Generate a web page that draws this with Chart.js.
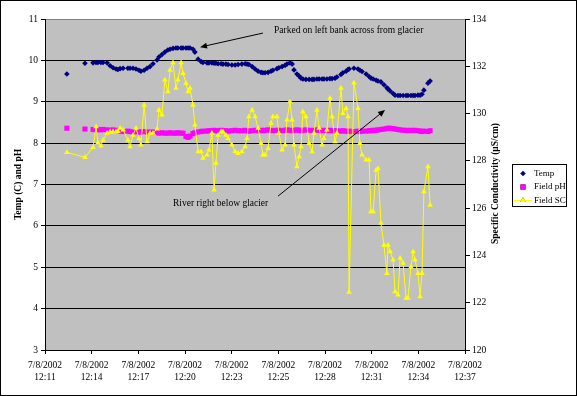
<!DOCTYPE html>
<html>
<head>
<meta charset="utf-8">
<title>Temp, pH and SC</title>
<script src="https://cdn.jsdelivr.net/npm/chart.js"></script>
<style>
  html, body { margin: 0; padding: 0; background: #fff; }
  canvas { display: block; }
</style>
</head>
<body>
<canvas id="chart" width="577" height="396"></canvas>
<script>
// x values are seconds after 7/8/2002 12:11:00
const tickDate = '7/8/2002';
const tickTimes = ['12:11', '12:14', '12:17', '12:20', '12:23', '12:25', '12:28', '12:31', '12:34', '12:37'];
const tickStep = 172.8; // 0.002 day between axis labels

const times = [
  81, 148, 178, 189, 196, 207, 215, 230, 241, 252,
  263, 270, 278, 289, 307, 315, 326, 337, 348, 355,
  367, 378, 389, 400, 415, 422, 433, 444, 455, 463,
  474, 485, 492, 504, 511, 522, 530, 537, 548, 555,
  567, 578, 585, 600, 607, 618, 626, 633, 641, 652,
  659, 670, 678, 692, 704, 715, 729, 741, 748, 755,
  767, 778, 789, 800, 807, 815, 826, 837, 844, 859,
  866, 878, 889, 896, 907, 915, 922, 933, 941, 948,
  955, 966, 978, 989, 996, 1007, 1015, 1026, 1033, 1044,
  1055, 1063, 1074, 1081, 1096, 1103, 1115, 1122, 1126, 1144,
  1159, 1166, 1174, 1189, 1200, 1207, 1215, 1226, 1233, 1244,
  1255, 1266, 1270, 1278, 1289, 1296, 1307, 1315, 1326, 1337,
  1344, 1355, 1363, 1370, 1381, 1389, 1396, 1403, 1418, 1426
];

const temp = [
  9.67, 9.93, 9.94, 9.95, 9.95, 9.95, 9.95, 9.94, 9.87, 9.82,
  9.79, 9.78, 9.80, 9.81, 9.81, 9.81, 9.81, 9.79, 9.76, 9.74,
  9.76, 9.81, 9.85, 9.92, 10.01, 10.08, 10.14, 10.20, 10.25, 10.27,
  10.29, 10.30, 10.30, 10.30, 10.30, 10.30, 10.30, 10.30, 10.27, 10.20,
  10.03, 9.97, 9.95, 9.94, 9.94, 9.94, 9.93, 9.93, 9.92, 9.92,
  9.91, 9.91, 9.90, 9.89, 9.89, 9.90, 9.91, 9.92, 9.91, 9.90,
  9.85, 9.79, 9.74, 9.71, 9.70, 9.70, 9.71, 9.74, 9.76, 9.80,
  9.82, 9.85, 9.88, 9.91, 9.94, 9.91, 9.77, 9.67, 9.62, 9.57,
  9.55, 9.54, 9.54, 9.54, 9.54, 9.55, 9.55, 9.55, 9.55, 9.55,
  9.56, 9.56, 9.57, 9.60, 9.66, 9.70, 9.74, 9.78, 9.79, 9.81,
  9.79, 9.76, 9.73, 9.67, 9.61, 9.57, 9.55, 9.52, 9.50, 9.48,
  9.41, 9.34, 9.31, 9.26, 9.20, 9.16, 9.15, 9.15, 9.15, 9.15,
  9.15, 9.15, 9.15, 9.15, 9.16, 9.16, 9.18, 9.28, 9.45, 9.50
];

const fieldPH = [
  8.36, 8.34, 8.33, 8.32, 8.33, 8.32, 8.33, 8.32, 8.31, 8.32,
  8.30, 8.31, 8.29, 8.28, 8.29, 8.28, 8.27, 8.28, 8.27, 8.27,
  8.28, 8.27, 8.26, 8.27, 8.26, 8.24, 8.25, 8.24, 8.24, 8.25,
  8.24, 8.24, 8.25, 8.24, 8.24, 8.16, 8.14, 8.17, 8.23, 8.25,
  8.27, 8.28, 8.29, 8.29, 8.30, 8.30, 8.31, 8.30, 8.30, 8.31,
  8.30, 8.30, 8.29, 8.30, 8.31, 8.30, 8.30, 8.31, 8.30, 8.29,
  8.30, 8.31, 8.30, 8.31, 8.30, 8.31, 8.32, 8.31, 8.30, 8.31,
  8.31, 8.30, 8.31, 8.32, 8.31, 8.30, 8.31, 8.32, 8.31, 8.30,
  8.31, 8.32, 8.31, 8.30, 8.31, 8.32, 8.31, 8.30, 8.31, 8.30,
  8.31, 8.30, 8.29, 8.30, 8.29, 8.30, 8.29, 8.28, 8.29, 8.28,
  8.29, 8.28, 8.29, 8.29, 8.30, 8.30, 8.31, 8.31, 8.32, 8.33,
  8.34, 8.35, 8.36, 8.36, 8.35, 8.34, 8.33, 8.32, 8.31, 8.31,
  8.30, 8.31, 8.30, 8.31, 8.30, 8.29, 8.28, 8.29, 8.28, 8.30
];

const fieldSC = [
  128.36, 128.15, 128.57, 129.45, 128.77, 128.63, 128.88, 129.17, 129.23, 129.23,
  129.23, 129.25, 129.38, 129.31, 128.88, 128.60, 129.09, 129.38, 128.95, 128.67,
  130.36, 128.81, 129.17, 129.17, 129.35, 130.15, 129.94, 131.42, 130.93, 131.84,
  132.15, 131.07, 131.42, 132.15, 131.70, 131.28, 130.93, 131.07, 130.36, 129.52,
  128.39, 128.39, 128.11, 128.25, 128.46, 129.17, 126.77, 127.90, 129.09, 129.23,
  129.23, 129.09, 128.95, 128.67, 128.39, 128.32, 128.39, 128.60, 128.95, 129.87,
  130.15, 129.87, 129.38, 128.74, 128.25, 128.25, 128.53, 129.59, 129.87, 129.87,
  129.17, 128.46, 128.67, 129.73, 130.50, 129.73, 128.67, 127.75, 128.18, 128.60,
  130.08, 129.87, 128.74, 128.39, 129.17, 130.15, 129.38, 128.67, 128.95, 129.31,
  130.65, 129.87, 128.81, 129.17, 131.07, 130.01, 130.22, 129.87, 122.45, 131.30,
  130.22, 128.74, 128.25, 128.04, 128.04, 125.85, 125.85, 127.61, 127.68, 125.36,
  124.44, 123.24, 124.44, 124.16, 123.81, 122.47, 122.33, 123.88, 123.67, 122.19,
  122.19, 123.52, 124.16, 123.81, 123.24, 122.26, 123.24, 126.70, 127.75, 126.13
];

// callouts, placed in data units of the x axis and the left axis
const notes = [
  { text: 'Parked on left bank across from glacier', tx: 848, ty: 10.73,
    from: [807, 10.66], to: [574, 10.32] },
  { text: 'River right below glacier', tx: 474, ty: 6.53,
    from: [863, 6.72], to: [1259, 8.80] }
];

const toXY = (vals) => vals.map((v, i) => ({ x: times[i], y: v }));

const serif = "'Liberation Serif', 'Times New Roman', serif";
Chart.defaults.font.family = serif;
Chart.defaults.font.size = 9;
Chart.defaults.color = '#000';

function arrow(ctx, x1, y1, x2, y2) {
  const a = Math.atan2(y2 - y1, x2 - x1);
  ctx.beginPath();
  ctx.moveTo(x1, y1);
  ctx.lineTo(x2 - 5 * Math.cos(a), y2 - 5 * Math.sin(a));
  ctx.stroke();
  ctx.beginPath();
  ctx.moveTo(x2, y2);
  ctx.lineTo(x2 - 7 * Math.cos(a) + 3 * Math.sin(a), y2 - 7 * Math.sin(a) - 3 * Math.cos(a));
  ctx.lineTo(x2 - 7 * Math.cos(a) - 3 * Math.sin(a), y2 - 7 * Math.sin(a) + 3 * Math.cos(a));
  ctx.closePath();
  ctx.fill();
}

const decor = {
  id: 'decor',
  beforeDraw(chart) {
    const { ctx, chartArea: a } = chart;
    ctx.save();
    ctx.fillStyle = '#fff';
    ctx.fillRect(0, 0, chart.width, chart.height);
    ctx.fillStyle = '#c0c0c0';
    ctx.fillRect(a.left, a.top, a.right - a.left, a.bottom - a.top);
    ctx.restore();
  },
  afterDraw(chart) {
    const { ctx, chartArea: a, scales } = chart;
    ctx.save();
    ctx.fillStyle = '#000';
    ctx.strokeStyle = '#000';
    ctx.lineWidth = 1;

    // axis titles
    ctx.font = 'bold 9.5px ' + serif;
    ctx.textAlign = 'center';
    ctx.textBaseline = 'middle';
    const midY = (a.top + a.bottom) / 2;
    ctx.save();
    ctx.translate(19, midY);
    ctx.rotate(-Math.PI / 2);
    ctx.fillText('Temp (C) and pH', 0, 0);
    ctx.restore();
    ctx.save();
    ctx.translate(496, midY - 1);
    ctx.rotate(-Math.PI / 2);
    ctx.fillText('Specific Conductivity (µS/cm)', 0, 0);
    ctx.restore();

    // callouts
    ctx.font = '9.5px ' + serif;
    ctx.textAlign = 'left';
    notes.forEach(n => {
      const px = v => scales.x.getPixelForValue(v);
      const py = v => scales.y.getPixelForValue(v);
      ctx.fillText(n.text, px(n.tx), py(n.ty));
      arrow(ctx, px(n.from[0]), py(n.from[1]), px(n.to[0]), py(n.to[1]));
    });

    // legend
    const lx = 512, ly = 164, lw = 54, lh = 42;
    ctx.font = '9px ' + serif;
    ctx.fillStyle = '#fff';
    ctx.fillRect(lx, ly, lw, lh);
    ctx.strokeRect(lx + 0.5, ly + 0.5, lw, lh);
    chart.data.datasets.forEach((ds, i) => {
      const y = ly + 9.5 + i * 13.5;
      if (ds.showLine) {
        ctx.strokeStyle = ds.borderColor;
        ctx.beginPath();
        ctx.moveTo(lx + 2, y);
        ctx.lineTo(lx + 20, y);
        ctx.stroke();
      }
      Chart.helpers.drawPoint(ctx, {
        pointStyle: ds.pointStyle, radius: ds.pointRadius, borderWidth: 0, rotation: 0
      }, lx + 11, y);
      ctx.fillStyle = ds.pointBackgroundColor;
      ctx.fill();
      ctx.fillStyle = '#000';
      ctx.fillText(ds.label, lx + 22, y);
    });

    // outer frame
    ctx.strokeStyle = '#000';
    ctx.strokeRect(0.5, 0.5, chart.width - 1, chart.height - 1);
    ctx.restore();
  }
};

new Chart(document.getElementById('chart'), {
  type: 'scatter',
  data: {
    datasets: [
      {
        label: 'Temp',
        data: toXY(temp),
        yAxisID: 'y',
        showLine: false,
        pointStyle: 'rectRot',
        pointRadius: 2.8,
        pointBorderWidth: 0,
        pointBackgroundColor: '#000080',
        pointBorderColor: '#000080',
        order: 2
      },
      {
        label: 'Field pH',
        data: toXY(fieldPH),
        yAxisID: 'y',
        showLine: false,
        pointStyle: 'rect',
        pointRadius: 3.6,
        pointBorderWidth: 0,
        pointBackgroundColor: '#ff00ff',
        pointBorderColor: '#ff00ff',
        order: 1
      },
      {
        label: 'Field SC',
        data: toXY(fieldSC),
        yAxisID: 'y2',
        showLine: true,
        borderColor: '#ffff00',
        borderWidth: 1,
        tension: 0,
        pointStyle: 'triangle',
        pointRadius: 3.2,
        pointBorderWidth: 0,
        pointBackgroundColor: '#ffff00',
        pointBorderColor: '#ffff00',
        order: 0
      }
    ]
  },
  options: {
    responsive: false,
    animation: false,
    layout: { padding: { top: 19, left: 0, right: 0, bottom: 0 } },
    plugins: {
      legend: { display: false },
      tooltip: { enabled: false }
    },
    scales: {
      x: {
        type: 'linear',
        min: 0,
        max: tickStep * (tickTimes.length - 1),
        afterBuildTicks: s => { s.ticks = tickTimes.map((t, i) => ({ value: i * tickStep })); },
        afterFit: s => { s.height = 46; },
        ticks: {
          autoSkip: false,
          maxRotation: 0,
          padding: 6,
          font: { size: 9.5, lineHeight: 1.2 },
          callback: (v, i) => [tickDate, tickTimes[i]]
        },
        grid: { drawOnChartArea: false, tickLength: 4, tickColor: '#000' },
        border: { color: '#000' }
      },
      y: {
        position: 'left',
        min: 3,
        max: 11,
        afterFit: s => { s.width = 45; },
        ticks: { stepSize: 1, padding: 3, font: { size: 9.5 } },
        grid: {
          color: c => (c.tick && c.tick.value === 11 ? '#808080' : '#000'),
          tickColor: '#000',
          tickLength: 4
        },
        border: { color: '#000' }
      },
      y2: {
        position: 'right',
        min: 120,
        max: 134,
        afterFit: s => { s.width = 112; },
        ticks: { stepSize: 2, padding: 2, font: { size: 9.5 } },
        grid: { drawOnChartArea: false, tickColor: '#000', tickLength: 5 },
        border: { color: '#000' }
      }
    }
  },
  plugins: [decor]
});
</script>
</body>
</html>
